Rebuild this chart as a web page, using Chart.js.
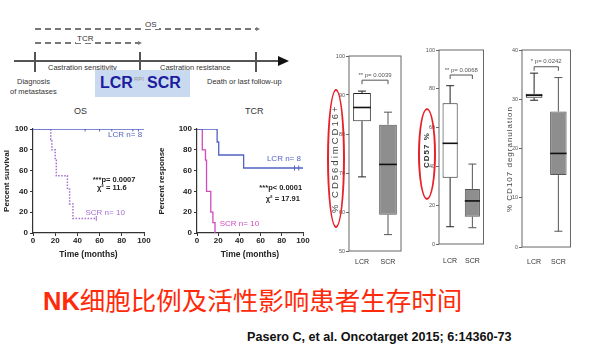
<!DOCTYPE html>
<html>
<head>
<meta charset="utf-8">
<script src="https://cdn.jsdelivr.net/npm/chart.js@4.4.1/dist/chart.umd.min.js"></script>
<style>
    body { margin: 0; width: 600px; height: 359px; background: #fff; position: relative; overflow: hidden;
           font-family: Arial, "Liberation Sans", sans-serif; }
    .abs { position: absolute; white-space: nowrap; }
    canvas { position: absolute; }
    .dash { position: absolute; height: 1.5px;
            background: repeating-linear-gradient(to right, #777 0 6px, transparent 6px 10px); }
    .head { position: absolute; width: 0; height: 0; border-top: 2.5px solid transparent;
            border-bottom: 2.5px solid transparent; border-left: 4px solid #777; }
    .vtick { position: absolute; width: 1.5px; height: 20px; top: 52px; background: #555; }
    .small { font-size: 7.5px; color: #333; line-height: 9px; }
    .big { font-size: 16px; font-weight: bold; color: #1c1ca0; line-height: 20px; }
    .ellipse { position: absolute; border: 2px solid #e8202a; border-radius: 50%; }
    .ytitle { position: absolute; transform-origin: 0 0; transform: rotate(-90deg); white-space: nowrap; color: #444; line-height: 9px; }
</style>
</head>
<body>

<!-- timeline diagram -->
<div class="dash" style="left:35px; top:28px; width:222px;"></div>
<div class="head" style="left:256px; top:26.5px;"></div>
<div class="abs small" style="left:143px; top:20px; background:#fff; padding:0 2px; font-size:8px;">OS</div>
<div class="dash" style="left:35px; top:42px; width:104px;"></div>
<div class="head" style="left:138px; top:40.5px;"></div>
<div class="abs small" style="left:76px; top:34px; background:#fff; padding:0 1px; font-size:8px;">TCR</div>
<div class="abs" style="left:14px; top:60px; width:266px; height:2px; background:#555;"></div>
<div class="abs" style="left:278px; top:56px; width:0; height:0; border-top:5px solid transparent; border-bottom:5px solid transparent; border-left:11px solid #111;"></div>
<div class="vtick" style="left:34px;"></div>
<div class="vtick" style="left:139px;"></div>
<div class="vtick" style="left:255px;"></div>
<div class="abs small" style="left:48px; top:63px;">Castration sensitivity</div>
<div class="abs small" style="left:160px; top:63px;">Castration resistance</div>
<div class="abs small" style="left:17px; top:77px;">Diagnosis</div>
<div class="abs small" style="left:10px; top:87px;">of metastases</div>
<div class="abs small" style="left:207px; top:77px;">Death or last follow-up</div>
<div class="abs" style="left:95px; top:70px; width:95px; height:27px; background:#c9d9ef;"></div>
<div class="abs big" style="left:100px; top:73px;">LCR</div>
<div class="abs" style="left:134px; top:76px; font-size:6px; color:#999;">RPI</div>
<div class="abs big" style="left:147px; top:73px;">SCR</div>

<!-- survival curves -->
<div class="abs" style="left:74px; top:106px; font-size:9px; color:#333;">OS</div>
<div class="abs" style="left:245px; top:106px; font-size:9px; color:#333;">TCR</div>
<canvas id="osChart" width="152" height="140" style="left:0; top:120px;"></canvas>
<canvas id="tcrChart" width="156" height="140" style="left:155px; top:120px;"></canvas>

<!-- box plots -->
<canvas id="cd56Chart" width="84" height="225" style="left:322px; top:46px;"></canvas>
<canvas id="cd57Chart" width="82" height="230" style="left:412px; top:40px;"></canvas>
<canvas id="cd107Chart" width="83" height="230" style="left:495px; top:40px;"></canvas>
<div class="ytitle" style="left:330px; top:213px; font-size:9.5px; letter-spacing:2px;">% CD56dimCD16+</div>
<div class="ytitle" style="left:422px; top:168px; font-size:8px; font-weight:bold; letter-spacing:1px; color:#333;">CD57 %</div>
<div class="ytitle" style="left:505px; top:212px; font-size:8px; letter-spacing:1px;">% CD107 degranulation</div>
<div class="ellipse" style="left:327px; top:89px; width:14px; height:135px;"></div>
<div class="ellipse" style="left:418px; top:108px; width:14px; height:88px;"></div>

<!-- captions -->
<div class="abs" style="left:43px; top:284px; font-size:25.5px; line-height:30px; color:#ff2a0a;"><span style="font-weight:bold; font-family:Arial, 'Liberation Sans', sans-serif;">NK</span><span style="font-family:'Noto Sans CJK SC', sans-serif;">细胞比例及活性影响患者生存时间</span></div>
<div class="abs" style="left:247px; top:330px; font-size:12.6px; font-weight:bold; color:#111;">Pasero C, et al. Oncotarget 2015; 6:14360-73</div>

<script>
// Overall survival (months, % survival)
const osLcrTime = [0, 100];
const osLcrSurv = [100, 100];
const osLcrCensor = [47, 60, 71, 90, 95];
const osScrTime = [0, 16, 17, 20, 21, 31, 33, 36, 57];
const osScrSurv = [100, 90, 80, 70, 55, 42, 28, 14, 14];
const osScrCensor = [57];

// Time to castration resistance (months, % response)
const tcrLcrTime = [0, 19, 20.5, 44, 100];
const tcrLcrResp = [100, 87.5, 75, 62.5, 62.5];
const tcrLcrCensor = [92, 96];
const tcrScrTime = [0, 5, 8, 9, 13, 15, 17];
const tcrScrResp = [100, 80, 70, 40, 20, 10, 0];

// Box plots: min, q1, median, q3, max
const boxCats = ['LCR', 'SCR'];
const cd56Lcr = [69, 83.3, 86.8, 90.5, 91];
const cd56Scr = [54.2, 59.3, 72.2, 82.4, 85.6];
const cd57Lcr = [8.9, 34.2, 51.9, 72.5, 81.6];
const cd57Scr = [8.4, 14.1, 22.2, 28.4, 41.2];
const cd107Lcr = [29.8, 30.3, 30.8, 31.1, 35.3];
const cd107Scr = [3.2, 14.6, 19.0, 27.5, 34.4];

const colors = {
    lcr: '#5062c4',
    scrOs: '#a46fcf',
    scrTcr: '#d14bbd',
    axis: '#333'
};

const toPoints = (xs, ys) => xs.map((x, i) => ({ x: x, y: ys[i] }));

// Text labels placed in data coordinates
const textMarks = {
    id: 'textMarks',
    afterDatasetsDraw(chart, args, opts) {
        const { ctx, scales: { x, y } } = chart;
        ctx.save();
        ctx.textAlign = 'center';
        ctx.textBaseline = 'middle';
        (opts.items || []).forEach(it => {
            ctx.font = it.font || 'bold 7.5px Arial';
            ctx.fillStyle = it.color || '#222';
            ctx.fillText(it.text, x.getPixelForValue(it.x), y.getPixelForValue(it.y));
        });
        ctx.restore();
    }
};

// Whiskers, medians, significance bracket and frame for box plots
const boxWhisker = {
    id: 'boxWhisker',
    afterDatasetsDraw(chart, args, opts) {
        const { ctx, chartArea: a, scales: { x, y } } = chart;
        const meta = chart.getDatasetMeta(0);
        ctx.save();
        opts.stats.forEach((s, i) => {
            const bar = meta.data[i];
            const cx = bar.x, w = bar.width, cap = 4;
            const [mn, q1, med, q3, mx] = s.map(v => y.getPixelForValue(v));
            ctx.strokeStyle = i === 0 ? '#222' : '#555';
            ctx.lineWidth = 1;
            ctx.beginPath();
            ctx.moveTo(cx, q1); ctx.lineTo(cx, mn);
            ctx.moveTo(cx, q3); ctx.lineTo(cx, mx);
            ctx.moveTo(cx - cap, mn); ctx.lineTo(cx + cap, mn);
            ctx.moveTo(cx - cap, mx); ctx.lineTo(cx + cap, mx);
            ctx.stroke();
            ctx.strokeStyle = '#111';
            ctx.lineWidth = 1.6;
            ctx.beginPath();
            ctx.moveTo(cx - w / 2, med); ctx.lineTo(cx + w / 2, med);
            ctx.stroke();
        });

        const b = opts.bracket;
        const x0 = x.getPixelForValue(0), x1 = x.getPixelForValue(1), by = y.getPixelForValue(b.y);
        ctx.strokeStyle = '#555';
        ctx.lineWidth = 1;
        ctx.beginPath();
        ctx.moveTo(x0, by + 4); ctx.lineTo(x0, by); ctx.lineTo(x1, by); ctx.lineTo(x1, by + 4);
        ctx.stroke();
        ctx.font = '6px Arial';
        ctx.fillStyle = '#555';
        ctx.textAlign = 'center';
        ctx.textBaseline = 'bottom';
        ctx.fillText(b.text, (x0 + x1) / 2, by - 2);

        ctx.strokeStyle = '#666';
        ctx.strokeRect(a.left, a.top, a.right - a.left, a.bottom - a.top);
        ctx.restore();
    }
};

// Kaplan-Meier style step chart
function createKmChart(id, series, labels, yTitle, yWidth, padRight) {
    const datasets = [];
    series.forEach(s => {
        datasets.push({
            data: toPoints(s.time, s.value),
            stepped: 'before',
            borderColor: s.color,
            borderWidth: s.width || 1.3,
            borderDash: s.dash || [],
            pointRadius: 0,
            fill: false
        });
        datasets.push({
            data: s.censor.map(t => ({ x: t, y: s.value[s.value.length - 1] })),
            showLine: false,
            pointStyle: 'line',
            rotation: 90,
            pointRadius: 2.5,
            borderColor: s.color,
            borderWidth: 1
        });
    });

    return new Chart(document.getElementById(id), {
        type: 'line',
        data: { datasets: datasets },
        options: {
            responsive: false,
            animation: false,
            devicePixelRatio: 1,
            layout: { padding: { top: 9, right: padRight, left: 0, bottom: 0 } },
            plugins: {
                legend: { display: false },
                tooltip: { enabled: false },
                textMarks: { items: labels }
            },
            scales: {
                x: {
                    type: 'linear', min: 0, max: 100,
                    ticks: { stepSize: 20, font: { size: 8, weight: 'bold' }, color: '#222', padding: 0, maxRotation: 0 },
                    grid: { drawOnChartArea: false, tickLength: 3, color: colors.axis },
                    border: { color: colors.axis, width: 1.2 },
                    title: { display: true, text: 'Time (months)', font: { size: 8.5, weight: 'bold' }, color: '#222', padding: { top: 3, bottom: 0 } },
                    afterFit: s => { s.height = 27; }
                },
                y: {
                    min: 0, max: 100,
                    ticks: { stepSize: 20, font: { size: 8, weight: 'bold' }, color: '#222', padding: 2 },
                    grid: { drawOnChartArea: false, tickLength: 3, color: colors.axis },
                    border: { color: colors.axis, width: 1.2 },
                    title: { display: true, text: yTitle, font: { size: 8, weight: 'bold' }, color: '#222', padding: { top: 2, bottom: 2 } },
                    afterFit: s => { s.width = yWidth; }
                }
            }
        },
        plugins: [textMarks]
    });
}

// Box plot from floating bars (q1..q3) plus whiskers
function createBoxChart(id, stats, yMin, yMax, step, bracket, padLeft, yWidth, xHeight, labelPad) {
    return new Chart(document.getElementById(id), {
        type: 'bar',
        data: {
            labels: boxCats,
            datasets: [{
                data: stats.map(s => [s[1], s[3]]),
                backgroundColor: ['#ffffff', '#8e8e8e'],
                borderColor: ['#222', '#555'],
                borderWidth: 1,
                borderSkipped: false,
                barPercentage: 0.68,
                categoryPercentage: 1
            }]
        },
        options: {
            responsive: false,
            animation: false,
            devicePixelRatio: 1,
            layout: { padding: { top: 10, right: 5, left: padLeft, bottom: 0 } },
            plugins: {
                legend: { display: false },
                tooltip: { enabled: false },
                boxWhisker: { stats: stats, bracket: bracket }
            },
            scales: {
                x: {
                    grid: { display: false, drawTicks: false },
                    border: { display: false },
                    ticks: { font: { size: 7 }, color: '#333', padding: labelPad },
                    afterFit: s => { s.height = xHeight; }
                },
                y: {
                    min: yMin, max: yMax,
                    ticks: { stepSize: step, font: { size: 5.5 }, color: '#555', padding: 1 },
                    grid: { drawOnChartArea: false, tickLength: 3, color: '#666' },
                    border: { display: false },
                    afterFit: s => { s.width = yWidth; }
                }
            }
        },
        plugins: [boxWhisker]
    });
}

createKmChart('osChart', [
    { time: osLcrTime, value: osLcrSurv, censor: osLcrCensor, color: colors.lcr },
    { time: osScrTime, value: osScrSurv, censor: osScrCensor, color: colors.scrOs, width: 1.5, dash: [1.5, 1.5] }
], [
    { x: 83, y: 94, text: 'LCR n= 8', color: colors.lcr, font: '8px Arial' },
    { x: 73, y: 51, text: '***p= 0.0007' },
    { x: 71, y: 43, text: 'χ² = 11.6' },
    { x: 65, y: 19, text: 'SCR n= 10', color: colors.scrOs, font: '8px Arial' }
], 'Percent survival', 33, 8);

createKmChart('tcrChart', [
    { time: tcrLcrTime, value: tcrLcrResp, censor: tcrLcrCensor, color: colors.lcr },
    { time: tcrScrTime, value: tcrScrResp, censor: [], color: colors.scrTcr }
], [
    { x: 82, y: 71, text: 'LCR n= 8', color: colors.lcr, font: '8px Arial' },
    { x: 79, y: 43, text: '***p< 0.0001' },
    { x: 81, y: 33, text: 'χ² = 17.91' },
    { x: 40, y: 8.5, text: 'SCR n= 10', color: colors.scrTcr, font: '8px Arial' }
], 'Percent response', 42, 8);

createBoxChart('cd56Chart', [cd56Lcr, cd56Scr], 50, 100, 10,
    { y: 93.8, text: '** p= 0.0039' }, 8, 19, 20, 7);
createBoxChart('cd57Chart', [cd57Lcr, cd57Scr], 0, 100, 20,
    { y: 87.1, text: '** p= 0.0068' }, 11, 16, 26, 13);
createBoxChart('cd107Chart', [cd107Lcr, cd107Scr], 0, 40, 10,
    { y: 36.6, text: '* p= 0.0242' }, 11, 16, 23, 11);
</script>
</body>
</html>
